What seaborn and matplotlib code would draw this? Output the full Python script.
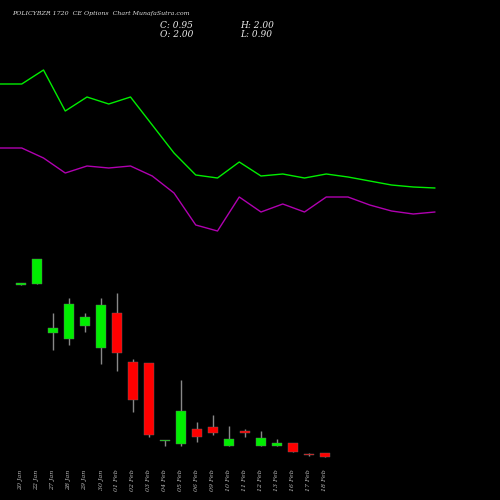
import matplotlib
matplotlib.use("Agg")
import matplotlib.pyplot as plt
import seaborn as sns
import pandas as pd
import numpy as np

dates = ["20 Jan","22 Jan","27 Jan","28 Jan","29 Jan","30 Jan","01 Feb","02 Feb","03 Feb","04 Feb",
         "05 Feb","06 Feb","09 Feb","10 Feb","11 Feb","12 Feb","13 Feb","16 Feb","17 Feb","18 Feb"]
opens  = [1.955,1.96,1.47,1.41,1.54,1.32,1.67,1.18,1.17,0.39,0.36,0.51,0.53,0.34,0.49,0.34,0.34,0.37,0.26,0.27]
closes = [1.97,2.21,1.525,1.76,1.63,1.75,1.27,0.80,0.45,0.40,0.69,0.43,0.47,0.41,0.47,0.42,0.37,0.28,0.25,0.23]
highs  = [1.97,2.21,1.67,1.82,1.67,1.82,1.87,1.21,1.17,0.40,1.00,0.58,0.65,0.54,0.51,0.49,0.41,0.37,0.27,0.27]
lows   = [1.955,1.96,1.30,1.35,1.48,1.16,1.09,0.68,0.43,0.34,0.34,0.38,0.45,0.34,0.43,0.34,0.34,0.28,0.24,0.23]

line_x = list(range(21))
green_line = [21.6,21.6,23.0,18.9,20.3,19.6,20.3,17.5,14.7,12.5,12.2,13.8,12.4,12.6,12.2,12.6,12.3,11.9,11.5,11.3,11.2]
magenta_line = [15.2,15.2,14.2,12.7,13.4,13.2,13.4,12.4,10.7,7.5,6.9,10.3,8.8,9.6,8.8,10.3,10.3,9.5,8.9,8.6,8.8]

sns.set_style("dark")
fig = plt.figure(figsize=(5,5), dpi=100, facecolor="black")
ax = fig.add_axes([0,0,1,1])
ax.set_facecolor("black")
ax.set_xlim(-21/16, (500-21)/16)
ax.set_ylim(-0.2, 4.8)
ax.axis("off")

x = np.arange(len(dates))
cols = ["#00ee00" if c >= o else "#ff0000" for o, c in zip(opens, closes)]
ax.vlines(x, lows, highs, color="#888888", lw=1, zorder=1)
bottoms = np.minimum(opens, closes)
heights = np.maximum(np.abs(np.array(closes) - np.array(opens)), 0.015)
ax.bar(x, heights, bottom=bottoms, width=0.6, color=cols, edgecolor="#666666", lw=0.3, zorder=2)
for i, d in enumerate(dates):
    ax.text(i, 0.0, d, rotation=90, ha="center", va="center", fontsize=4.5,
            family="DejaVu Serif", style="italic", color="#bbbbbb")

ax2 = fig.add_axes([0,0,1,1])
ax2.patch.set_alpha(0)
df = pd.DataFrame({"x": line_x, "g": green_line, "m": magenta_line})
sns.lineplot(data=df, x="x", y="g", ax=ax2, color="#00ee00", lw=1)
sns.lineplot(data=df, x="x", y="m", ax=ax2, color="#b000b0", lw=1)
ax2.set_xlim(0, 500/21.75)
ax2.set_ylim(-20, 30)
ax2.axis("off")

fig.text(12/500, 1-14/500, "POLICYBZR 1720  CE Options  Chart MunafaSutra.com", fontsize=4.5,
         family="DejaVu Serif", style="italic", color="#dddddd", va="center")
for t, xx, yy in [("C: 0.95",160,25),("H: 2.00",240,25),("O: 2.00",160,34),("L: 0.90",240,34)]:
    fig.text(xx/500, 1-yy/500, t, fontsize=6.5, family="DejaVu Serif", style="italic",
             color="#eeeeee", va="center")
fig.savefig("out.png", facecolor="black")
